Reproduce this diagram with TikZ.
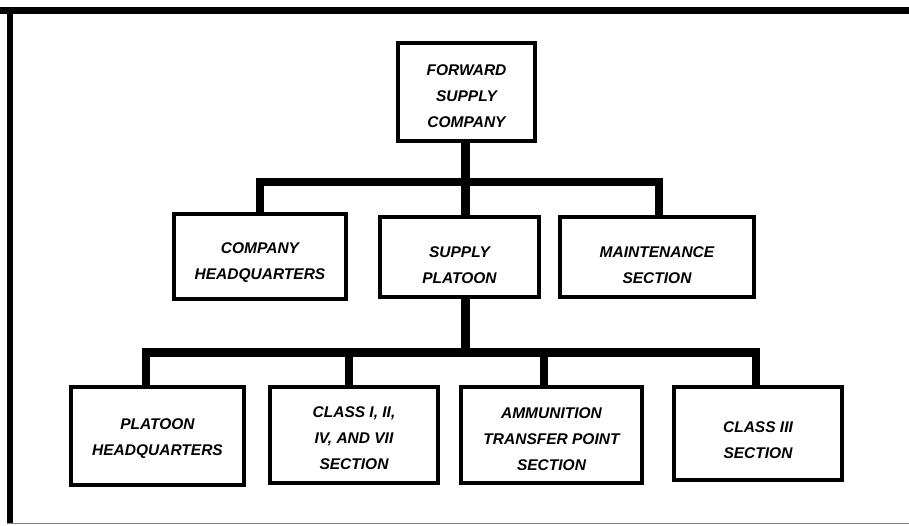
\documentclass[tikz,border=0pt]{standalone}
\usepackage{fontspec}
\setmainfont{Liberation Sans}
\begin{document}
\begin{tikzpicture}[x=1pt,y=-1pt,
  unit/.style={draw=black,line width=3.5pt,fill=white,inner sep=0pt},
  lbl/.style={align=center,inner sep=0pt,
    font=\fontsize{15.5}{26}\selectfont\bfseries\itshape},
  bus/.style={line width=8.5pt,line join=miter,line cap=butt}]
\useasboundingbox (0,0) rectangle (909,526);
% page frame: heavy rule on top and left, thin grey rule at the foot
\fill[black] (0,7) rectangle (909,14);
\fill[black] (7,7) rectangle (13,524);
\draw[gray,line width=1.5pt] (7,523.5) -- (909,523.5);

% company level
\node[unit,minimum width=137pt,minimum height=98pt,
  label={[lbl,yshift=-4pt]center:{FORWARD\\SUPPLY\\COMPANY}}] (fsc) at (466.5,92) {};
\node[unit,minimum width=172pt,minimum height=85pt,
  label={[lbl,yshift=-6.5pt]center:{COMPANY\\HEADQUARTERS}}] (chq) at (260,256.5) {};
\node[unit,minimum width=159pt,minimum height=80pt,
  label={[lbl,yshift=-8pt]center:{SUPPLY\\PLATOON}}] (spl) at (459.5,257) {};
\node[unit,minimum width=194pt,minimum height=80pt,
  label={[lbl,yshift=-8.5pt]center:{MAINTENANCE\\SECTION}}] (mnt) at (657,257) {};

% platoon level
\node[unit,minimum width=173pt,minimum height=98pt,
  label={[lbl,yshift=-3pt]center:{PLATOON\\HEADQUARTERS}}] (phq) at (157.5,436) {};
\node[unit,minimum width=168pt,minimum height=96pt,
  label={[lbl,yshift=-3.5pt]center:{CLASS I, II,\\IV, AND VII\\SECTION}}] (cls) at (354,435) {};
\node[unit,minimum width=181pt,minimum height=96pt,
  label={[lbl,yshift=-4pt]center:{AMMUNITION\\TRANSFER POINT\\SECTION}}] (atp) at (551.5,435) {};
\node[unit,minimum width=168pt,minimum height=93pt,
  label={[lbl,yshift=-6.5pt]center:{CLASS III\\SECTION}}] (c3) at (758,433.5) {};

% junctions on the two buses
\coordinate (j1) at (465.5,182);
\coordinate (j2) at (465.5,352.5);

% company bus
\draw[bus] ([xshift=-1pt]fsc.south) -- (j1);
\draw[bus] (chq.north) |- (j1) -| ([xshift=2pt]mnt.north);
\draw[bus] (j1) -- ([xshift=6pt]spl.north);

% platoon bus
\draw[bus] ([xshift=6pt]spl.south) -- (j2);
\draw[bus] ([xshift=-11.5pt]phq.north) |- (j2) -| ([xshift=-2pt]c3.north);
\draw[bus] ([xshift=-5pt]cls.north |- j2) -- ([xshift=-5pt]cls.north);
\draw[bus] ([xshift=-7.5pt]atp.north |- j2) -- ([xshift=-7.5pt]atp.north);
\end{tikzpicture}
\end{document}
